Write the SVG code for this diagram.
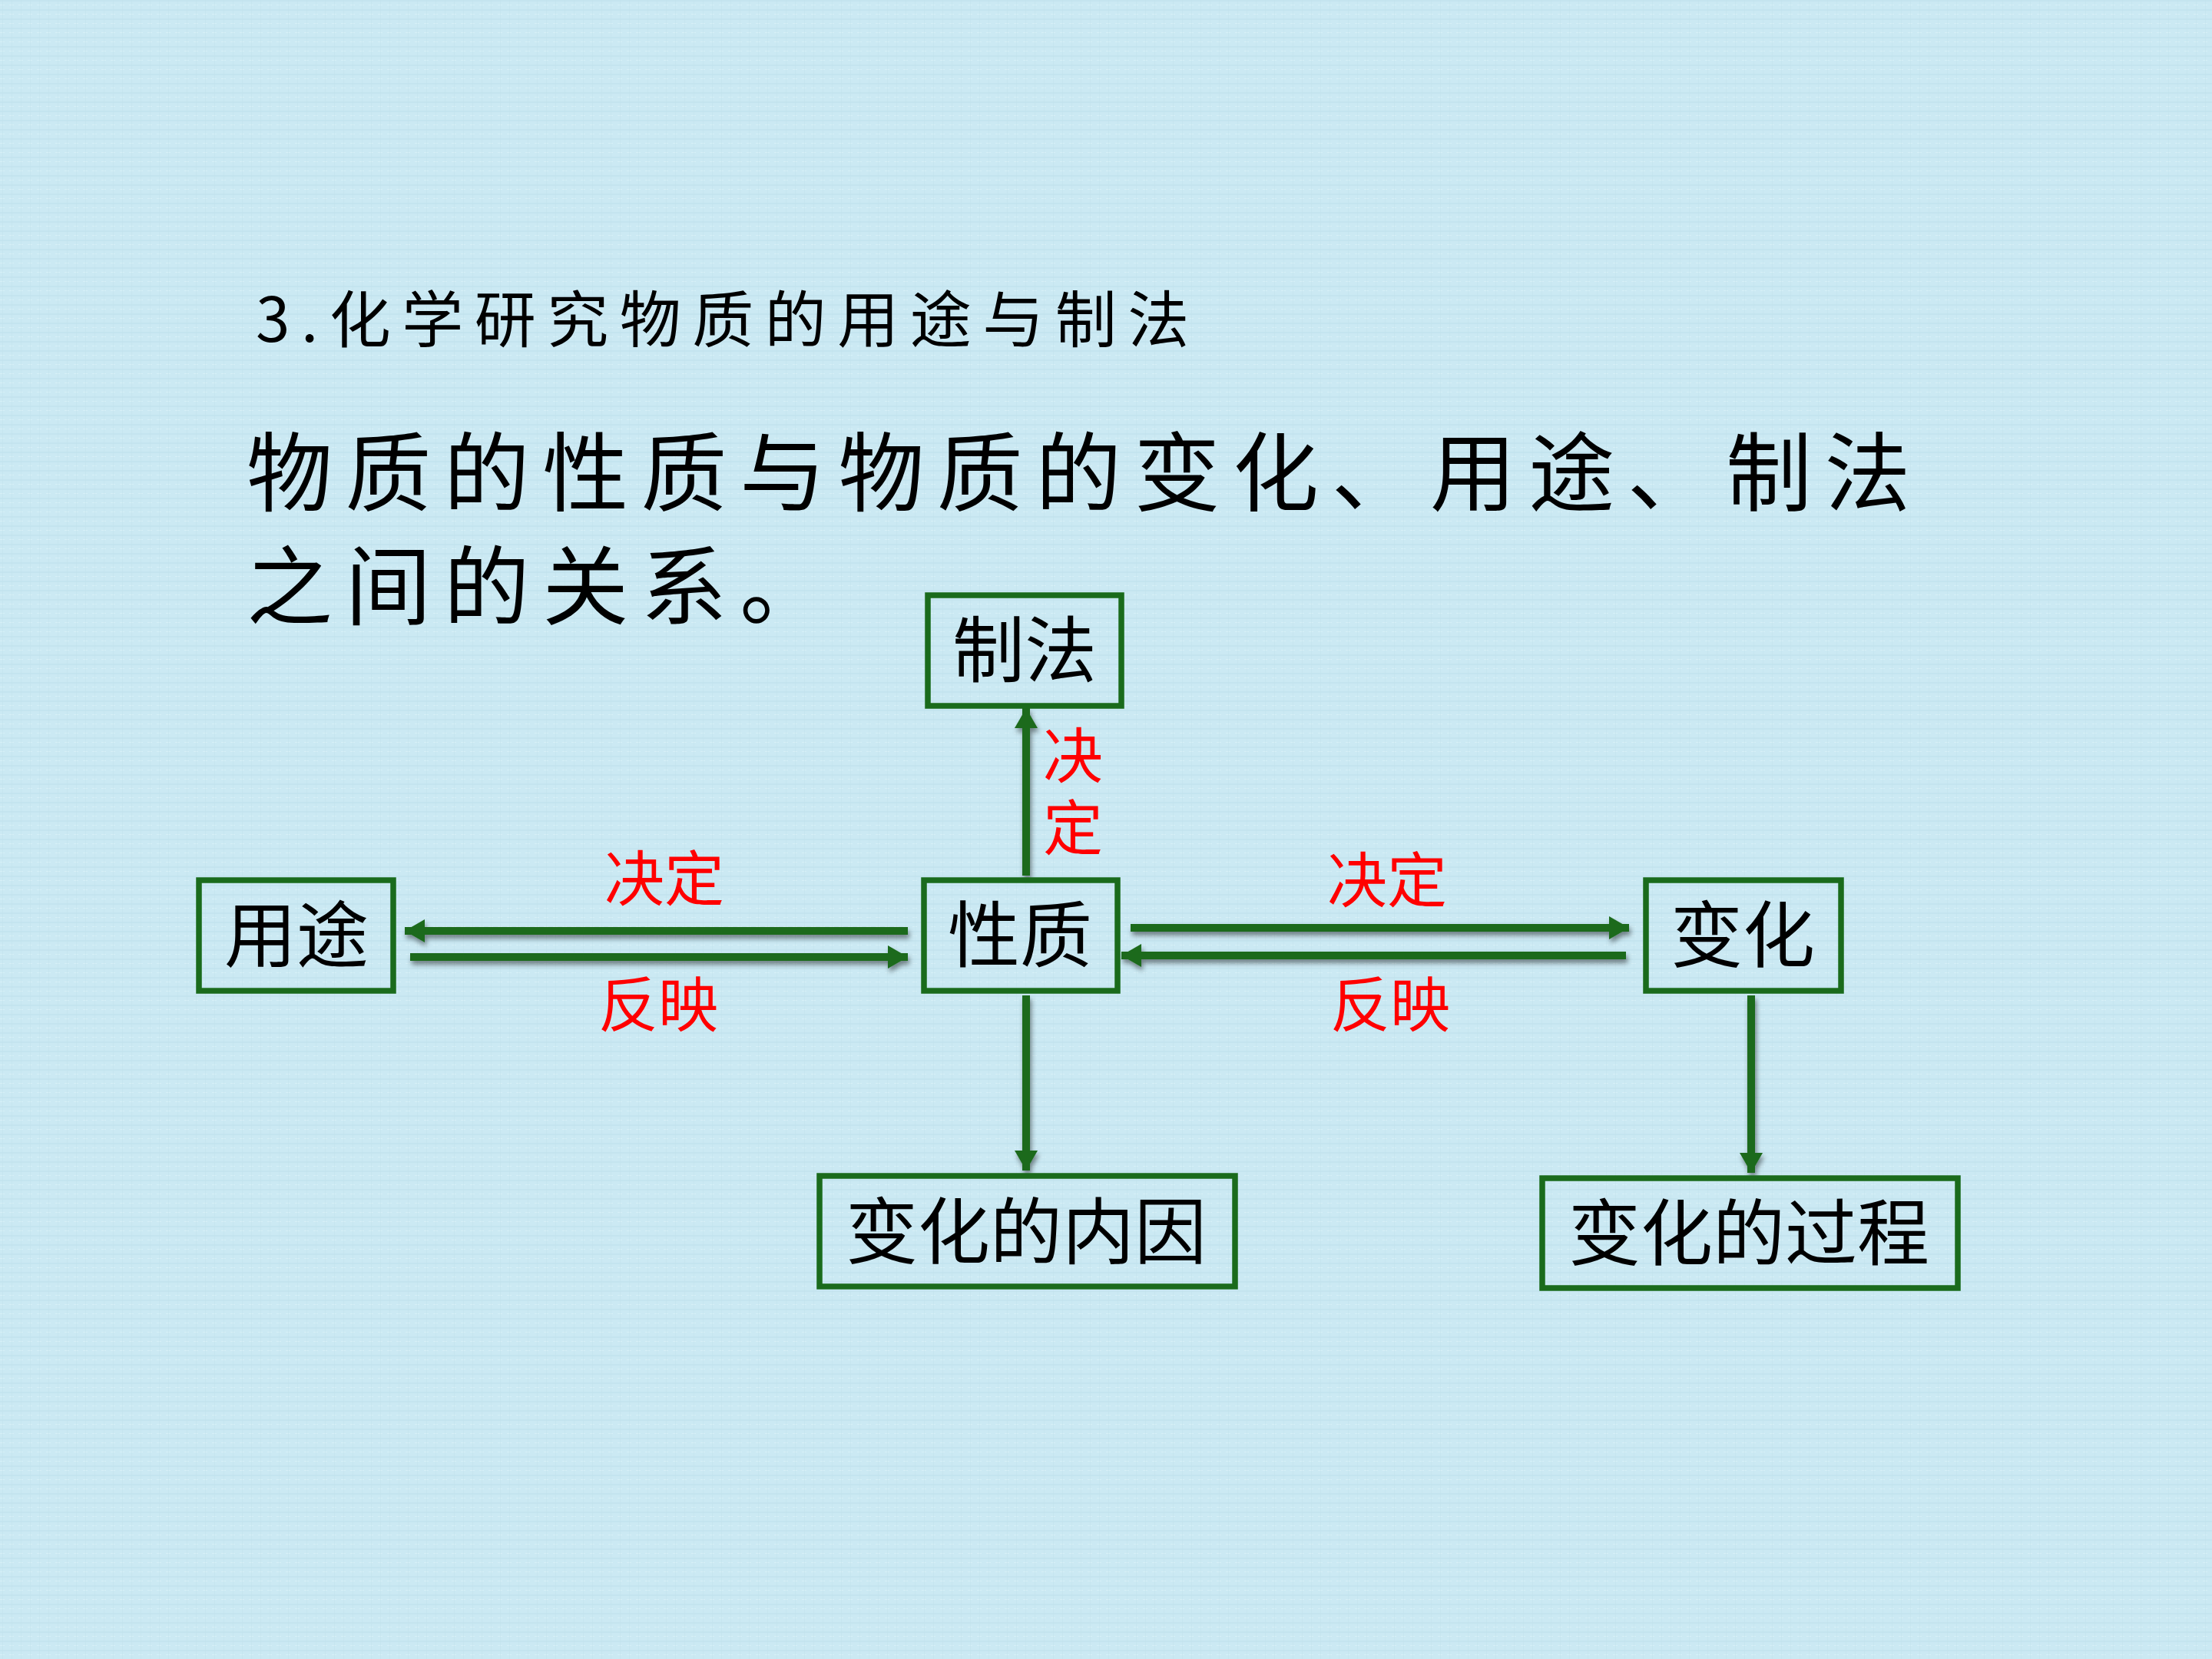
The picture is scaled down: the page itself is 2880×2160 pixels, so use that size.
<svg xmlns="http://www.w3.org/2000/svg" width="2880" height="2160" viewBox="0 0 2880 2160">
<style>
.box{fill:none;stroke:#1A6B1C;stroke-width:7.5}
.nt{font-family:"Noto Sans CJK SC","Noto Sans",sans-serif;font-size:94px;fill:#000;text-anchor:middle}
.rl{font-family:"Noto Sans CJK SC","Noto Sans",sans-serif;font-size:78px;fill:#FF0000;text-anchor:middle}
.vt{font-family:"Noto Sans CJK SC","Noto Sans",sans-serif;font-size:78px;fill:#FF0000;writing-mode:vertical-rl;text-orientation:upright}
.hd{font-family:"Noto Sans CJK SC","Noto Sans",sans-serif;fill:#000}
.cn{fill:none;stroke:#1D6A1D;stroke-width:10}
</style>
<defs>
<pattern id="tex" width="12" height="12" patternUnits="userSpaceOnUse">
<rect width="12" height="12" fill="#CBE9F3"/>
<rect x="0" y="0" width="12" height="2" fill="#C0E1EC" opacity="0.6"/>
<rect x="0" y="6" width="6" height="1" fill="#D9F1F8" opacity="0.8"/>
<rect x="3" y="0" width="1" height="12" fill="#C1E2EC" opacity="0.5"/>
</pattern>
<marker id="ah" markerUnits="userSpaceOnUse" markerWidth="26" markerHeight="30" refX="26" refY="15" orient="auto">
<path d="M0,0 L26,15 L0,30 z" fill="#1D6A1D"/>
</marker>
<filter id="sh" x="-10%" y="-50%" width="120%" height="200%">
<feDropShadow dx="2" dy="5" stdDeviation="3" flood-color="#000" flood-opacity="0.45"/>
</filter>
</defs>
<rect width="2880" height="2160" fill="url(#tex)"/>

<g id="heading">
<text class="hd" x="333" y="445" font-size="80" letter-spacing="14.5">3.化学研究物质的用途与制法</text>
<text class="hd" x="321" y="657" font-size="112" letter-spacing="16.4">物质的性质与物质的变化、用途、制法</text>
<text class="hd" x="321" y="805" font-size="112" letter-spacing="16.4">之间的关系。</text>
</g>

<g id="connectors" filter="url(#sh)">
<line class="cn" x1="1182" y1="1212" x2="527" y2="1212" marker-end="url(#ah)"/>
<line class="cn" x1="534" y1="1246" x2="1182" y2="1246" marker-end="url(#ah)"/>
<line class="cn" x1="1472" y1="1208" x2="2121" y2="1208" marker-end="url(#ah)"/>
<line class="cn" x1="2117" y1="1244" x2="1460" y2="1244" marker-end="url(#ah)"/>
<line class="cn" x1="1336" y1="1140" x2="1336" y2="922" marker-end="url(#ah)"/>
<line class="cn" x1="1336" y1="1296" x2="1336" y2="1524" marker-end="url(#ah)"/>
<line class="cn" x1="2280" y1="1296" x2="2280" y2="1527" marker-end="url(#ah)"/>
</g>

<g id="labels">
<text class="rl" x="865" y="1173">决定</text>
<text class="rl" x="857" y="1337">反映</text>
<text class="rl" x="1806" y="1175">决定</text>
<text class="rl" x="1810" y="1337">反映</text>
<text class="vt" x="1397" y="944" letter-spacing="16">决定</text>
</g>

<g id="node-zhifa">
<rect class="box" x="1208" y="775" width="252" height="144"/>
<text class="nt" x="1334" y="881">制法</text>
</g>
<g id="node-xingzhi">
<rect class="box" x="1203" y="1146" width="252" height="144"/>
<text class="nt" x="1328" y="1252">性质</text>
</g>
<g id="node-yongtu">
<rect class="box" x="259" y="1146" width="253" height="144"/>
<text class="nt" x="386" y="1252">用途</text>
</g>
<g id="node-bianhua">
<rect class="box" x="2143" y="1146" width="254" height="144"/>
<text class="nt" x="2269" y="1252">变化</text>
</g>
<g id="node-neiyin">
<rect class="box" x="1067" y="1531" width="541" height="144"/>
<text class="nt" x="1336" y="1638">变化的内因</text>
</g>
<g id="node-guocheng">
<rect class="box" x="2008" y="1534" width="541" height="143"/>
<text class="nt" x="2277" y="1640">变化的过程</text>
</g>
</svg>
